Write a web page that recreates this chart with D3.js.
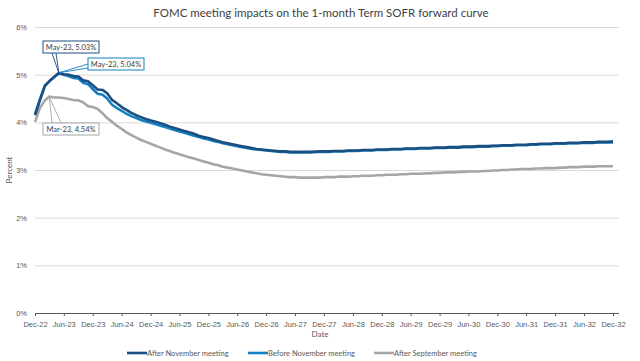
<!DOCTYPE html>
<html>
<head>
<meta charset="utf-8">
<script src="https://cdn.jsdelivr.net/npm/d3@7"></script>
<style>
body { margin: 0; background: #fff; }
svg { display: block; font-family: Lato, "Open Sans", sans-serif; }
</style>
</head>
<body>
<div id="chart"></div>
<script>
// months: Dec-22 .. Dec-32, one value per month
var firstMonth = "2022-12-01";

var afterNovember = [
	4.15, 4.46, 4.76, 4.86, 4.95, 5.03, 5.01, 5.00, 4.97, 4.96, 4.88, 4.86,
	4.78, 4.69, 4.68, 4.61, 4.47, 4.40, 4.32, 4.26, 4.20, 4.15, 4.11, 4.07,
	4.04, 4.01, 3.98, 3.95, 3.91, 3.88, 3.85, 3.82, 3.79, 3.76, 3.72, 3.69,
	3.67, 3.64, 3.61, 3.58, 3.56, 3.54, 3.52, 3.50, 3.48, 3.46, 3.44, 3.43,
	3.42, 3.41, 3.40, 3.39, 3.39, 3.38, 3.38, 3.38, 3.38, 3.38, 3.38, 3.39,
	3.39, 3.39, 3.40, 3.40, 3.40, 3.41, 3.41, 3.41, 3.42, 3.42, 3.42, 3.43,
	3.43, 3.43, 3.44, 3.44, 3.44, 3.45, 3.45, 3.45, 3.46, 3.46, 3.46, 3.47,
	3.47, 3.47, 3.48, 3.48, 3.48, 3.49, 3.49, 3.49, 3.50, 3.50, 3.50, 3.51,
	3.51, 3.52, 3.52, 3.52, 3.53, 3.53, 3.53, 3.54, 3.54, 3.55, 3.55, 3.55,
	3.56, 3.56, 3.56, 3.57, 3.57, 3.57, 3.58, 3.58, 3.58, 3.59, 3.59, 3.59,
	3.60
];

var beforeNovember = [
	4.17, 4.48, 4.77, 4.86, 4.95, 5.04, 5.00, 4.97, 4.93, 4.92, 4.83, 4.80,
	4.70, 4.60, 4.58, 4.50, 4.37, 4.30, 4.24, 4.18, 4.13, 4.09, 4.05, 4.02,
	3.99, 3.96, 3.93, 3.90, 3.87, 3.84, 3.81, 3.78, 3.75, 3.72, 3.69, 3.66,
	3.64, 3.61, 3.59, 3.56, 3.54, 3.52, 3.50, 3.48, 3.46, 3.44, 3.43, 3.42,
	3.41, 3.40, 3.39, 3.38, 3.38, 3.37, 3.37, 3.37, 3.37, 3.37, 3.38, 3.38,
	3.38, 3.38, 3.39, 3.39, 3.39, 3.40, 3.40, 3.40, 3.41, 3.41, 3.41, 3.42,
	3.42, 3.42, 3.43, 3.43, 3.43, 3.44, 3.44, 3.44, 3.45, 3.45, 3.45, 3.46,
	3.46, 3.46, 3.47, 3.47, 3.47, 3.48, 3.48, 3.48, 3.49, 3.49, 3.49, 3.50,
	3.50, 3.51, 3.51, 3.51, 3.52, 3.52, 3.52, 3.53, 3.53, 3.54, 3.54, 3.54,
	3.55, 3.55, 3.55, 3.56, 3.56, 3.56, 3.57, 3.57, 3.57, 3.58, 3.58, 3.58,
	3.58
];

var afterSeptember = [
	4.01, 4.30, 4.46, 4.54, 4.52, 4.52, 4.51, 4.49, 4.47, 4.46, 4.42, 4.34,
	4.32, 4.28, 4.19, 4.09, 4.01, 3.93, 3.86, 3.79, 3.73, 3.68, 3.63, 3.59,
	3.55, 3.51, 3.47, 3.43, 3.40, 3.36, 3.33, 3.30, 3.27, 3.24, 3.21, 3.18,
	3.15, 3.12, 3.10, 3.07, 3.05, 3.03, 3.01, 2.99, 2.97, 2.95, 2.93, 2.91,
	2.90, 2.89, 2.88, 2.87, 2.86, 2.85, 2.85, 2.84, 2.84, 2.84, 2.84, 2.84,
	2.85, 2.85, 2.85, 2.86, 2.86, 2.86, 2.87, 2.87, 2.88, 2.88, 2.88, 2.89,
	2.89, 2.90, 2.90, 2.90, 2.91, 2.91, 2.92, 2.92, 2.92, 2.93, 2.93, 2.94,
	2.94, 2.95, 2.95, 2.95, 2.96, 2.96, 2.97, 2.97, 2.97, 2.98, 2.98, 2.99,
	2.99, 3.00, 3.00, 3.01, 3.01, 3.02, 3.02, 3.02, 3.03, 3.03, 3.04, 3.04,
	3.04, 3.05, 3.05, 3.06, 3.06, 3.06, 3.07, 3.07, 3.07, 3.08, 3.08, 3.08,
	3.08
];

var seriesNames = ["After November meeting", "Before November meeting", "After September meeting"];
var seriesColors = ["#1b4f80", "#1380c3", "#a6a6a6"];

var xTickLabels = ["Dec-22", "Jun-23", "Dec-23", "Jun-24", "Dec-24", "Jun-25", "Dec-25",
	"Jun-26", "Dec-26", "Jun-27", "Dec-27", "Jun-28", "Dec-28", "Jun-29", "Dec-29",
	"Jun-30", "Dec-30", "Jun-31", "Dec-31", "Jun-32", "Dec-32"];
var yTicks = [0, 1, 2, 3, 4, 5, 6];

// callouts: series index, month label, value
var callouts = [
	{ s: 0, month: "May-23", value: 5.03 },
	{ s: 1, month: "May-23", value: 5.04 },
	{ s: 2, month: "Mar-23", value: 4.54 }
];

var parseMonth = d3.timeParse("%b-%y");
var formatMonth = d3.timeFormat("%b-%y");

var startDate = d3.timeParse("%Y-%m-%d")(firstMonth);
var allSeries = [afterNovember, beforeNovember, afterSeptember];

// width and height
var width = 640, height = 361;
var margin = { left: 35, right: 27, top: 27, bottom: 48 };

var svg = d3.select("#chart")
	.append("svg")
	.attr("width", width)
	.attr("height", height);

// x and y
var x = d3.scaleTime()
	.domain([parseMonth(xTickLabels[0]), parseMonth(xTickLabels[xTickLabels.length - 1])])
	.range([margin.left, width - margin.right]);

var y = d3.scaleLinear()
	.domain([0, 6])
	.range([height - margin.bottom, margin.top]);

// title
svg.append("text")
	.attr("x", 321)
	.attr("y", 17)
	.attr("text-anchor", "middle")
	.attr("font-size", "11.5px")
	.attr("fill", "#404040")
	.text("FOMC meeting impacts on the 1-month Term SOFR forward curve");

// y gridlines
var yAxisCall = d3.axisLeft(y)
	.tickValues(yTicks)
	.tickSize(-(width - margin.left - margin.right + 6))
	.tickFormat(function(d){ return d + "%"; });

var yAxis = svg.append("g")
	.attr("class", "y-axis")
	.attr("transform", "translate(" + margin.left + ",0)")
	.call(yAxisCall);
yAxis.select(".domain").remove();
yAxis.selectAll("line")
	.attr("stroke", "#d9d9d9")
	.attr("stroke-width", 1);
yAxis.selectAll("text")
	.attr("x", -8)
	.attr("font-size", "7.5px")
	.attr("fill", "#595959");

// x axis
var xAxisCall = d3.axisBottom(x)
	.tickValues(xTickLabels.map(parseMonth))
	.tickSize(3)
	.tickFormat(formatMonth);

var xAxis = svg.append("g")
	.attr("class", "x-axis")
	.attr("transform", "translate(0," + y(0) + ")")
	.call(xAxisCall);
xAxis.select(".domain")
	.attr("d", "M" + margin.left + ",0.5H" + (width - margin.right + 6) + "")
	.attr("stroke", "#595959");
xAxis.selectAll("line").attr("stroke", "#595959");
xAxis.selectAll("text")
	.attr("y", 9)
	.attr("font-size", "7.5px")
	.attr("fill", "#595959");

// axis titles
svg.append("text")
	.attr("x", 320)
	.attr("y", 337)
	.attr("text-anchor", "middle")
	.attr("font-size", "8px")
	.attr("fill", "#595959")
	.text("Date");

svg.append("text")
	.attr("transform", "translate(12," + y(3) + ") rotate(-90)")
	.attr("text-anchor", "middle")
	.attr("font-size", "8px")
	.attr("fill", "#595959")
	.text("Percent");

// lines
var line = d3.line()
	.x(function(d, i){ return x(d3.timeMonth.offset(startDate, i)); })
	.y(function(d){ return y(d); });

var order = [2, 1, 0];
order.forEach(function(s){
	svg.append("path")
		.datum(allSeries[s])
		.attr("fill", "none")
		.attr("stroke", seriesColors[s])
		.attr("stroke-width", 2.6)
		.attr("stroke-linejoin", "round")
		.attr("d", line);
});

// callout boxes
var boxes = [
	{ bx: 43, by: 41, w: 56, h: 12, wedge: "bottom" },
	{ bx: 88, by: 58, w: 56, h: 12, wedge: "left" },
	{ bx: 43, by: 123, w: 56, h: 12, wedge: "top" }
];

callouts.forEach(function(c, k){
	var b = boxes[k];
	var px = x(parseMonth(c.month)), py = y(c.value);
	var g = svg.append("g");
	var col = seriesColors[c.s];
	var pts;
	if(b.wedge == "bottom"){
		pts = [[b.bx + 9, b.by + b.h], [px, py], [b.bx + 13, b.by + b.h]];
	} else if(b.wedge == "left"){
		pts = [[b.bx, b.by + b.h - 6], [px, py], [b.bx, b.by + b.h - 2]];
	} else {
		pts = [[b.bx + 9, b.by], [px, py], [b.bx + 18, b.by]];
	}
	g.append("polyline")
		.attr("points", pts.map(function(p){ return p.join(","); }).join(" "))
		.attr("fill", "none")
		.attr("stroke", col)
		.attr("stroke-width", 0.9);
	g.append("rect")
		.attr("x", b.bx)
		.attr("y", b.by)
		.attr("width", b.w)
		.attr("height", b.h)
		.attr("fill", "#fff")
		.attr("stroke", col)
		.attr("stroke-width", 1);
	g.append("text")
		.attr("x", b.bx + b.w / 2)
		.attr("y", b.by + b.h / 2 + 2.7)
		.attr("text-anchor", "middle")
		.attr("font-size", "7.5px")
		.attr("fill", "#404040")
		.text(c.month + ", " + c.value.toFixed(2) + "%");
});

// legend
var legendX = [127, 248, 374];
var legend = svg.append("g").attr("class", "legend");
seriesNames.forEach(function(name, i){
	legend.append("line")
		.attr("x1", legendX[i])
		.attr("x2", legendX[i] + 20)
		.attr("y1", 353)
		.attr("y2", 353)
		.attr("stroke", seriesColors[i])
		.attr("stroke-width", 2.6);
	legend.append("text")
		.attr("x", legendX[i] + 20)
		.attr("y", 355.7)
		.attr("font-size", "7.5px")
		.attr("fill", "#595959")
		.text(name);
});
</script>
</body>
</html>
